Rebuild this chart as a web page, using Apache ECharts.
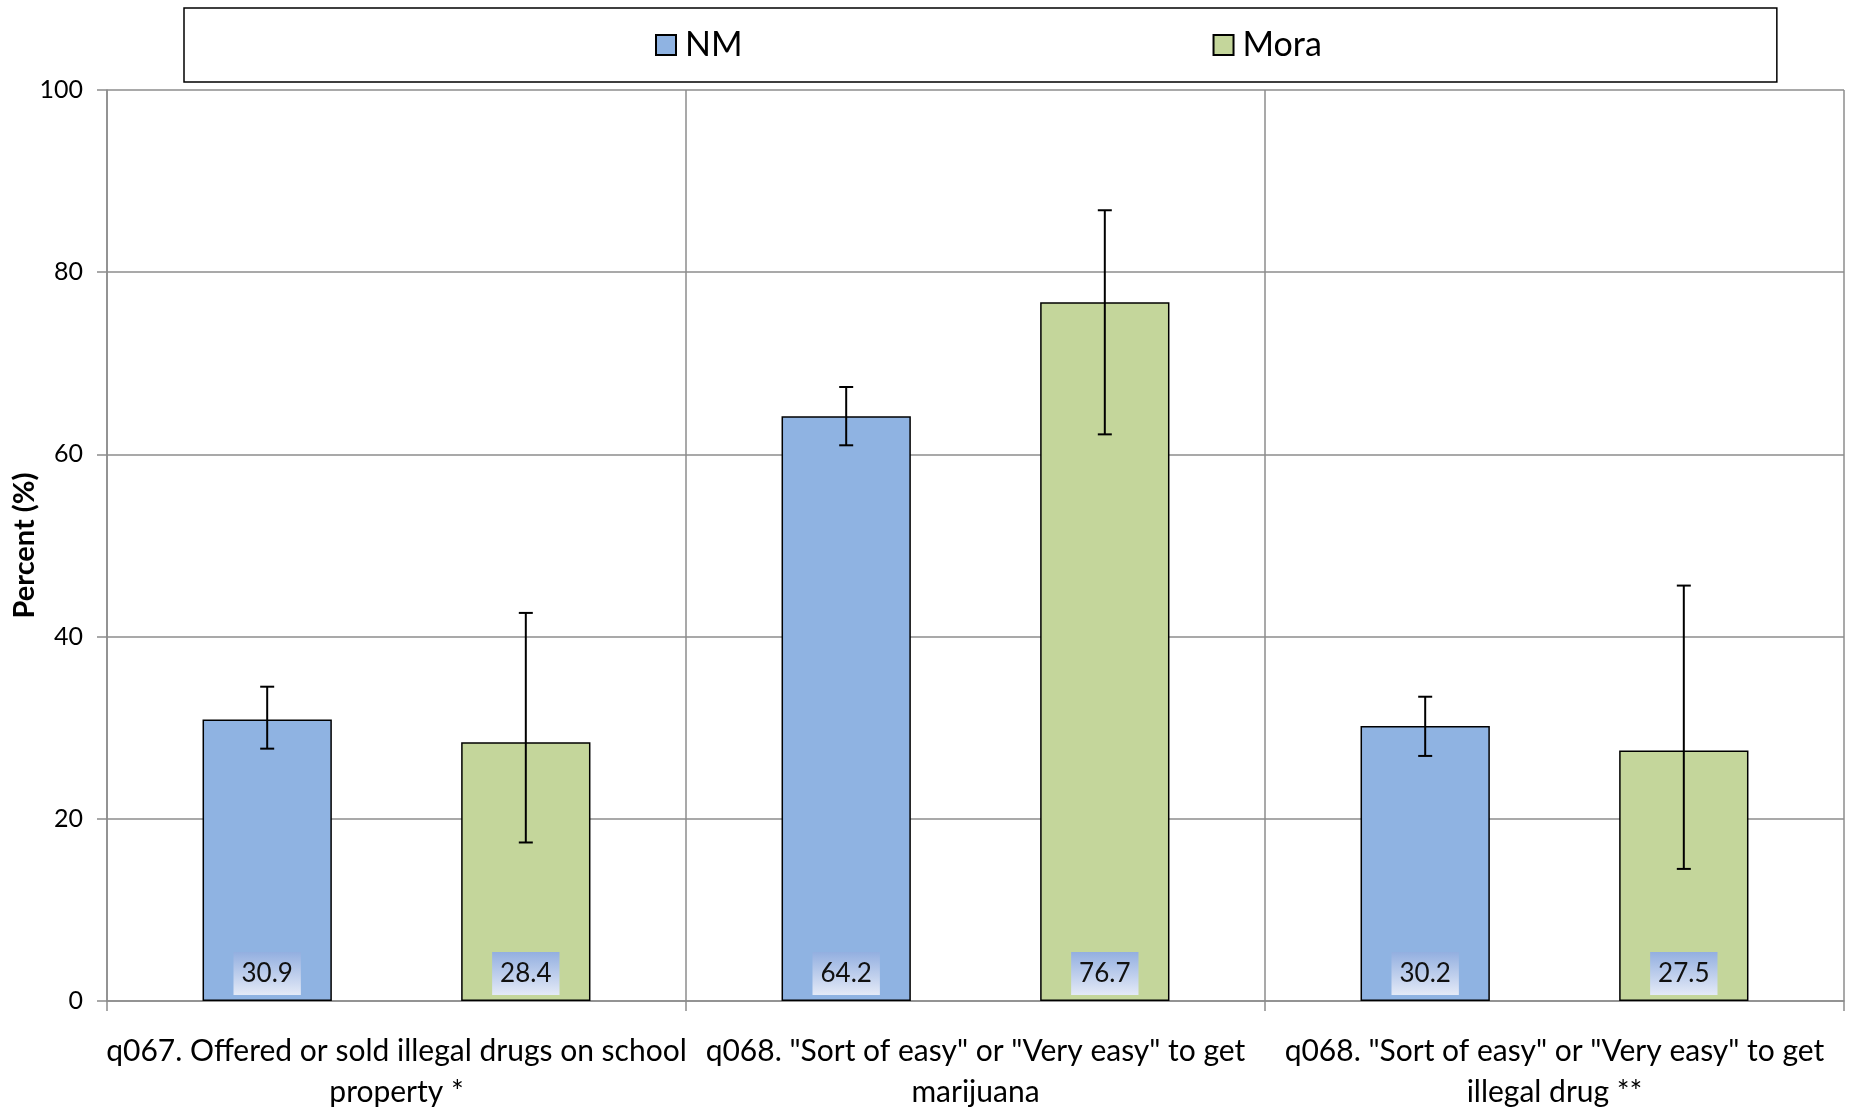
<!DOCTYPE html>
<html>
<head>
<meta charset="utf-8">
<style>
  html, body { margin: 0; padding: 0; background: #ffffff; }
  #chart { width: 1851px; height: 1109px; }
</style>
<script src="https://cdn.jsdelivr.net/npm/echarts@6/dist/echarts.min.js"></script>
</head>
<body>
<div id="chart"></div>
<script>
// ---- data ----
const categories = [
  'q067. Offered or sold illegal drugs on school\nproperty *',
  'q068. "Sort of easy" or "Very easy" to get\nmarijuana',
  'q068. "Sort of easy" or "Very easy" to get\nillegal drug **'
];
const seriesNames = ['NM', 'Mora'];
const nmValues = [30.9, 64.2, 30.2];
const moraValues = [28.4, 76.7, 27.5];
const nmLow = [27.7, 61.0, 26.9];
const nmHigh = [34.5, 67.4, 33.4];
const moraLow = [17.4, 62.2, 14.5];
const moraHigh = [42.6, 86.8, 45.6];
const yMin = 0, yMax = 100, yInterval = 20;

// ---- chart ----
const FONT = 'Lato, "Noto Sans", sans-serif';
const GRID_COLOR = '#8c8c8c';
const BAR_CATEGORY_GAP = 0.33;

const chart = echarts.init(document.getElementById('chart'), null, { renderer: 'canvas' });

function labelBg() {
  return new echarts.graphic.LinearGradient(0, 0, 0, 1, [
    { offset: 0, color: '#93afe0' },
    { offset: 1, color: '#e4eaf7' }
  ]);
}

function errorSeries(name, low, high, sign) {
  return {
    type: 'custom',
    name: name + ' error',
    z: 10,
    silent: true,
    tooltip: { show: false },
    data: low.map((l, i) => [i, l, high[i]]),
    renderItem: function (params, api) {
      const xi = api.value(0);
      const pLo = api.coord([xi, api.value(1)]);
      const pHi = api.coord([xi, api.value(2)]);
      const catW = api.size([1, 0])[0];
      const barW = catW * (1 - BAR_CATEGORY_GAP) / 3;
      const cx = pLo[0] + sign * barW;
      const cap = 7;
      const st = { stroke: '#000', lineWidth: 2 };
      return {
        type: 'group',
        children: [
          { type: 'line', shape: { x1: cx, y1: pHi[1], x2: cx, y2: pLo[1] }, style: st },
          { type: 'line', shape: { x1: cx - cap, y1: pHi[1], x2: cx + cap, y2: pHi[1] }, style: st },
          { type: 'line', shape: { x1: cx - cap, y1: pLo[1], x2: cx + cap, y2: pLo[1] }, style: st }
        ]
      };
    }
  };
}

function barSeries(name, values, color) {
  return {
    type: 'bar',
    name: name,
    data: values,
    barGap: '100%',
    barCategoryGap: (BAR_CATEGORY_GAP * 100) + '%',
    itemStyle: { color: color, borderColor: '#000', borderWidth: 1.5 },
    label: {
      show: true,
      position: 'insideBottom',
      distance: 6,
      formatter: p => p.value.toFixed(1),
      fontFamily: FONT,
      fontSize: 26,
      color: '#111',
      backgroundColor: labelBg(),
      padding: [9, 8, 8, 8]
    }
  };
}

chart.setOption({
  animation: false,
  backgroundColor: '#ffffff',
  grid: { left: 107, right: 7, top: 90, bottom: 108, containLabel: false, outerBoundsMode: 'none' },
  legend: {
    data: seriesNames,
    left: 184,
    top: 8,
    padding: [20, 455, 20, 471],
    borderColor: '#000',
    borderWidth: 1.5,
    itemGap: 470,
    itemWidth: 20,
    itemHeight: 20,
    icon: 'rect',
    textStyle: { fontFamily: FONT, fontSize: 34, color: '#000', padding: [0, 0, 0, 4] }
  },
  xAxis: {
    type: 'category',
    data: categories,
    boundaryGap: true,
    axisLine: { show: true, lineStyle: { color: GRID_COLOR, width: 1.5 } },
    axisTick: { show: true, length: 10, lineStyle: { color: GRID_COLOR, width: 1.5 } },
    splitLine: { show: true, lineStyle: { color: GRID_COLOR, width: 1.5 } },
    axisLabel: {
      interval: 0,
      margin: 30,
      fontFamily: FONT,
      fontSize: 30,
      lineHeight: 41,
      color: '#000'
    }
  },
  yAxis: {
    type: 'value',
    min: yMin,
    max: yMax,
    interval: yInterval,
    name: 'Percent (%)',
    nameLocation: 'middle',
    nameGap: 68,
    nameMoveOverlap: false,
    nameTextStyle: { fontFamily: FONT, fontSize: 29, fontWeight: 'bold', color: '#000' },
    axisLine: { show: true, lineStyle: { color: GRID_COLOR, width: 1.5 } },
    axisTick: { show: true, length: 10, lineStyle: { color: GRID_COLOR, width: 1.5 } },
    splitLine: { show: true, lineStyle: { color: GRID_COLOR, width: 1.5 } },
    axisLabel: { margin: 24, fontFamily: FONT, fontSize: 25, color: '#000' }
  },
  series: [
    barSeries('NM', nmValues, '#8fb3e2'),
    barSeries('Mora', moraValues, '#c4d69b'),
    errorSeries('NM', nmLow, nmHigh, -1),
    errorSeries('Mora', moraLow, moraHigh, 1)
  ]
});
</script>
</body>
</html>
